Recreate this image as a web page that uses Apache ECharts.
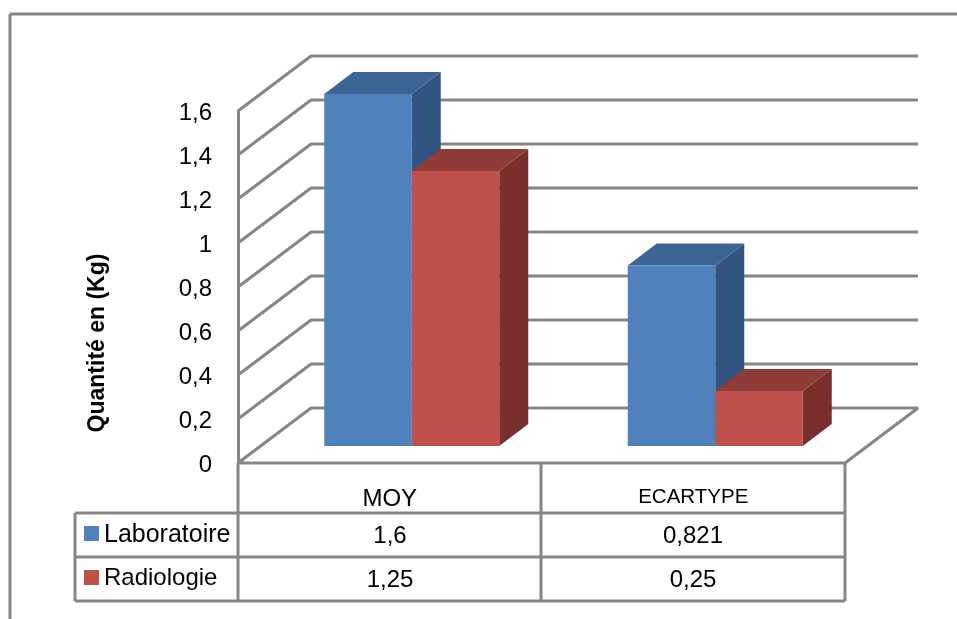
<!DOCTYPE html>
<html>
<head>
<meta charset="utf-8">
<style>html,body{margin:0;padding:0;background:#fff}#c{width:957px;height:619px}</style>
<script src="https://cdn.jsdelivr.net/npm/echarts@6/dist/echarts.min.js"></script>
</head>
<body>
<div id="c"></div>
<script>
const categories = ['MOY', 'ECARTYPE'];
const laboratoire = [1.6, 0.821];
const radiologie = [1.25, 0.25];
const yTicks = [0, 0.2, 0.4, 0.6, 0.8, 1, 1.2, 1.4, 1.6];
const seriesNames = ['Laboratoire', 'Radiologie'];
const tableLab = ['1,6', '0,821'];
const tableRad = ['1,25', '0,25'];
const axisTitle = 'Quantité en (Kg)';

const FONT = '"Liberation Sans", Arial, sans-serif';
const GRID = '#868686';
const LW = 3;
const WALL = [73, -55];
const FLOOR_SHIFT = [22, -17];
const BAR_DEPTH = [29, -22];
const BAR_W = 87.5;
const PAL = [
  {front: '#4F81BD', top: '#3D6594', side: '#335480'},
  {front: '#C0504D', top: '#8F3B38', side: '#7A2F2D'}
];

function wallItem(params, api) {
  const v = api.value(0);
  const a = api.coord([0, v]);
  const x0 = params.coordSys.x, x1 = x0 + params.coordSys.width, y = a[1];
  const pts = [[x0, y], [x0 + WALL[0], y + WALL[1]], [x1 + WALL[0], y + WALL[1]]];
  if (v === 0) pts.push([x1, y], [x0, y]);
  return {type: 'polyline', shape: {points: pts},
    style: {fill: null, stroke: GRID, lineWidth: LW, lineJoin: 'bevel'}};
}
function barItem(idx) {
  return function (params, api) {
    const c = api.coord([api.value(0), api.value(1)]);
    const b = api.coord([api.value(0), 0]);
    const left = c[0] + FLOOR_SHIFT[0] + (idx === 0 ? -BAR_W : 0);
    const right = left + BAR_W;
    const top = c[1] + FLOOR_SHIFT[1], bot = b[1] + FLOOR_SHIFT[1];
    const dx = BAR_DEPTH[0], dy = BAR_DEPTH[1], p = PAL[idx];
    return {type: 'group', children: [
      {type: 'polygon', shape: {points: [[right, top], [right + dx, top + dy], [right + dx, bot + dy], [right, bot]]}, style: {fill: p.side}},
      {type: 'polygon', shape: {points: [[left, top], [left + dx, top + dy], [right + dx, top + dy], [right, top]]}, style: {fill: p.top}},
      {type: 'rect', shape: {x: left, y: top, width: BAR_W, height: bot - top}, style: {fill: p.front}}
    ]};
  };
}
function line(x1, y1, x2, y2, w) {
  return {type: 'line', silent: true, z: 1, shape: {x1, y1, x2, y2},
    style: {stroke: GRID, lineWidth: w || LW}};
}
function txt(x, y, t, align, size, extra) {
  return {type: 'text', z: 5, x, y, silent: true,
    style: Object.assign({text: t, fill: '#000', font: size + 'px ' + FONT, textAlign: align, textVerticalAlign: 'middle'}, extra || {})};
}
const colX = [390, 693];
const graphics = [
  line(10, 14, 957, 14), line(10, 14, 10, 619),
  line(238, 463, 238, 601), line(541, 463, 541, 601), line(845, 463, 845, 601),
  line(75, 513, 845, 513), line(75, 557, 845, 557), line(75, 601, 845, 601), line(75, 513, 75, 601),
  {type: 'rect', z: 5, shape: {x: 84, y: 526, width: 15, height: 15}, style: {fill: PAL[0].front}},
  {type: 'rect', z: 5, shape: {x: 84, y: 570, width: 15, height: 15}, style: {fill: PAL[1].front}},
  txt(104, 535, seriesNames[0], 'left', 25),
  txt(104, 578, seriesNames[1], 'left', 24),
  {type: 'text', z: 5, silent: true, x: 98, y: 343, rotation: Math.PI / 2,
    style: {text: axisTitle, fill: '#000', font: 'bold 23px ' + FONT, textAlign: 'center', textVerticalAlign: 'middle'}}
];
tableLab.forEach((t, i) => graphics.push(txt(colX[i], 536, t, 'center', 24)));
tableRad.forEach((t, i) => graphics.push(txt(colX[i], 580, t, 'center', 24)));

const chart = echarts.init(document.getElementById('c'), null, {renderer: 'canvas'});
chart.setOption({
  animation: false,
  backgroundColor: '#fff',
  grid: {left: 238, top: 111, width: 607, height: 352, containLabel: false},
  xAxis: {type: 'category', data: categories, boundaryGap: true,
    axisTick: {show: false}, axisLine: {show: false},
    axisLabel: {color: '#000', fontFamily: FONT, fontSize: 24, margin: 24, interval: 0,
      formatter: v => v.length > 4 ? '{n|' + v + '}' : v,
      rich: {n: {fontFamily: FONT, fontSize: 20.5, color: '#000'}}}},
  yAxis: {type: 'value', min: 0, max: 1.6, interval: 0.2,
    axisLine: {show: true, lineStyle: {color: GRID, width: LW}}, axisTick: {show: false}, splitLine: {show: false},
    axisLabel: {color: '#000', margin: 26,
      formatter: v => '{t|' + String(Math.round(v * 10) / 10).replace('.', ',') + '}',
      rich: {t: {fontFamily: FONT, fontSize: 24, color: '#000', padding: [5, 0, 0, 0]}}}},
  series: [
    {type: 'custom', name: 'walls', coordinateSystem: 'cartesian2d', z: 1, silent: true, clip: false,
      data: yTicks.map(v => [v]), encode: {y: 0}, renderItem: wallItem},
    {type: 'custom', name: seriesNames[0], coordinateSystem: 'cartesian2d', z: 2, silent: true, clip: false,
      data: laboratoire.map((v, i) => [i, v]), encode: {x: 0, y: 1}, renderItem: barItem(0)},
    {type: 'custom', name: seriesNames[1], coordinateSystem: 'cartesian2d', z: 3, silent: true, clip: false,
      data: radiologie.map((v, i) => [i, v]), encode: {x: 0, y: 1}, renderItem: barItem(1)}
  ],
  graphic: graphics
});
</script>
</body>
</html>
